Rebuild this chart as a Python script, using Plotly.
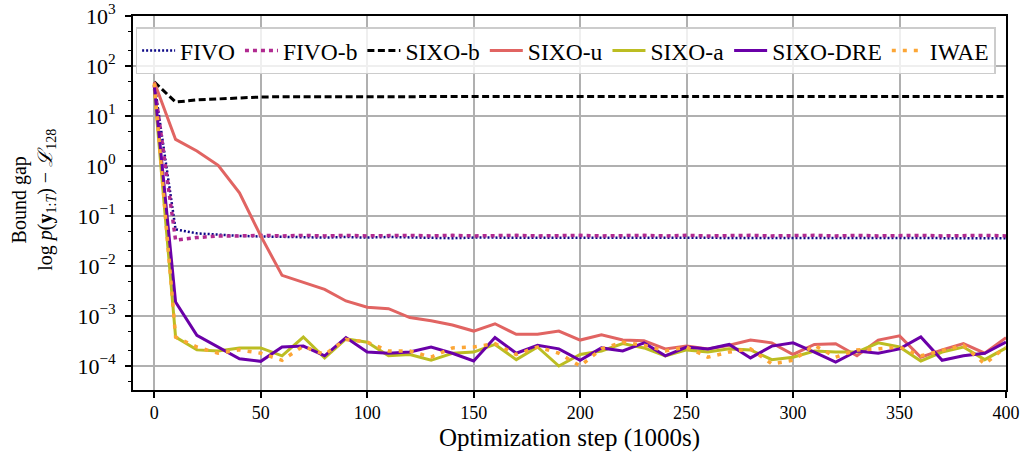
import plotly.graph_objects as go

steps = list(range(0, 410, 10))

fivo = [45, 0.054, 0.045, 0.042, 0.040, 0.039, 0.038, 0.038, 0.037, 0.038, 0.037,
        0.038, 0.037, 0.037, 0.036, 0.037, 0.037, 0.036, 0.037, 0.037, 0.036,
        0.036, 0.037, 0.036, 0.037, 0.036, 0.037, 0.037, 0.036, 0.037, 0.037,
        0.036, 0.036, 0.037, 0.036, 0.037, 0.036, 0.037, 0.036, 0.037, 0.036]
fivo_b = [42, 0.033, 0.037, 0.040, 0.040, 0.041, 0.040, 0.041, 0.040, 0.041, 0.040,
          0.041, 0.041, 0.040, 0.041, 0.040, 0.041, 0.041, 0.040, 0.041, 0.041,
          0.040, 0.041, 0.041, 0.040, 0.041, 0.040, 0.041, 0.041, 0.040, 0.041,
          0.041, 0.040, 0.041, 0.040, 0.041, 0.041, 0.040, 0.041, 0.041, 0.040]
sixo_b = [48, 19, 21, 22, 23, 24, 24.3, 24.4, 24.5, 24.5, 24.5,
          24.5, 24.5, 24.5, 24.5, 24.5, 24.5, 24.5, 24.5, 24.5, 24.5,
          24.5, 24.5, 24.5, 24.5, 24.5, 24.5, 24.5, 24.5, 24.5, 24.5,
          24.5, 24.5, 24.5, 24.5, 24.5, 24.5, 24.5, 24.5, 24.5, 24.5]
sixo_u = [48, 3.4, 2.0, 1.03, 0.29, 0.040, 0.0065, 0.0047, 0.0034, 0.0020, 0.0015,
          0.0014, 0.00093, 0.00080, 0.00066, 0.00050, 0.00070, 0.00043, 0.00043, 0.00050, 0.00033,
          0.00042, 0.00033, 0.00032, 0.00022, 0.00025, 0.00022, 0.00026, 0.00033, 0.00029, 0.00017,
          0.00027, 0.00028, 0.00016, 0.00033, 0.00040, 0.00015, 0.00021, 0.00028, 0.00018, 0.00037]
sixo_a = [35, 0.00038, 0.00021, 0.00020, 0.00023, 0.00023, 0.00016, 0.00038, 0.000145, 0.00035, 0.00030,
          0.00016, 0.00017, 0.00013, 0.00018, 0.00019, 0.00027, 0.000134, 0.00024, 0.00010, 0.00017,
          0.00020, 0.00028, 0.00023, 0.00016, 0.00021, 0.00019, 0.00022, 0.00021, 0.000134, 0.00015,
          0.00020, 0.00019, 0.00019, 0.00029, 0.00024, 0.000126, 0.00019, 0.00024, 0.000134, 0.00023]
sixo_dre = [40, 0.0019, 0.00041, 0.00024, 0.00014, 0.000124, 0.00024, 0.00025, 0.00016, 0.00037, 0.00019,
            0.00018, 0.00019, 0.00024, 0.00018, 0.000126, 0.00037, 0.00018, 0.00026, 0.00022, 0.00013,
            0.00023, 0.00020, 0.00029, 0.00016, 0.00024, 0.00022, 0.00027, 0.000145, 0.00025, 0.00029,
            0.00019, 0.00012, 0.00020, 0.00018, 0.00022, 0.00038, 0.00013, 0.00016, 0.00018, 0.00030]
iwae = [45, 0.00038, 0.00024, 0.00018, 0.00021, 0.00018, 0.00013, 0.00025, 0.00017, 0.00034, 0.00030,
        0.00020, 0.00020, 0.00015, 0.00023, 0.00024, 0.00028, 0.00017, 0.00024, 0.00018, 0.00010,
        0.00022, 0.00030, 0.00026, 0.00020, 0.00024, 0.00015, 0.00019, 0.00022, 0.00011, 0.00013,
        0.00026, 0.00015, 0.00021, 0.00022, 0.00024, 0.00016, 0.00020, 0.00026, 0.00011, 0.00024]

series = [
    ("FIVO", fivo, "#0d0887", "2px,2px", 2.5),
    ("FIVO-b", fivo_b, "#b12a90", "4px,4px", 3.5),
    ("SIXO-b", sixo_b, "#000000", "7px,3.5px", 3),
    ("SIXO-u", sixo_u, "#e16462", "solid", 3),
    ("SIXO-a", sixo_a, "#bcbd22", "solid", 3),
    ("SIXO-DRE", sixo_dre, "#6a00a8", "solid", 3),
    ("IWAE", iwae, "#fca636", "4px,7px", 3.5),
]

x_ticks = [0, 50, 100, 150, 200, 250, 300, 350, 400]
y_tick_vals = [1e-4, 1e-3, 1e-2, 1e-1, 1, 10, 100, 1000]
y_tick_text = ["10<sup>−4</sup>", "10<sup>−3</sup>", "10<sup>−2</sup>", "10<sup>−1</sup>",
               "10<sup>0</sup>", "10<sup>1</sup>", "10<sup>2</sup>", "10<sup>3</sup>"]

fig = go.Figure()
for name, vals, color, dash, w in series:
    fig.add_trace(go.Scatter(x=steps, y=vals, mode="lines", name=name,
                             line=dict(color=color, dash=dash, width=w)))

font_family = "Liberation Serif, DejaVu Serif, serif"
fig.update_layout(
    width=1021, height=455,
    margin=dict(l=133, r=15, t=16, b=65),
    plot_bgcolor="white", paper_bgcolor="white",
    font=dict(family=font_family, size=18, color="black"),
    showlegend=True,
    legend=dict(orientation="h", x=0.003, y=0.97, xanchor="left", yanchor="top",
                bgcolor="rgba(255,255,255,0.8)", bordercolor="#cccccc", borderwidth=1.5,
                font=dict(size=23.5), itemwidth=33, tracegroupgap=0),
    xaxis=dict(range=[-10, 400], tickvals=x_ticks, ticks="outside", ticklen=6, tickwidth=1.5,
               tickcolor="black", showline=True, linecolor="black", linewidth=1.6, mirror=True,
               showgrid=True, gridcolor="#b0b0b0", gridwidth=1.6, zeroline=False,
               automargin=False, tickfont=dict(size=18)),
    yaxis=dict(type="log", range=[-4.48, 3.0005], tickvals=y_tick_vals, ticktext=y_tick_text,
               ticks="outside", ticklen=6, tickwidth=1.5, tickcolor="black",
               showline=True, linecolor="black", linewidth=1.6, mirror=True,
               showgrid=True, gridcolor="#b0b0b0", gridwidth=1.6, zeroline=False,
               automargin=False, tickfont=dict(size=22), ticklabelstandoff=5,
               minor=dict(ticks="outside", ticklen=3.5, tickwidth=1, tickcolor="black", showgrid=False)),
    annotations=[
        dict(text="Optimization step (1000s)", xref="paper", yref="paper",
             x=0.5, y=-0.128, xanchor="center", yanchor="middle", showarrow=False,
             font=dict(size=25)),
        dict(text="Bound gap<br>log <i>p</i>(<b>y</b><sub>1:<i>T</i></sub>) − <i>ℒ</i><sub>128</sub>",
             xref="paper", yref="paper", x=-0.114, y=0.51, xanchor="center", yanchor="middle",
             textangle=-90, showarrow=False, font=dict(size=20)),
    ],
)

fig.write_html("out.html", config={"displayModeBar": False},
               post_script="document.body.style.margin='0';document.body.style.overflow='hidden';")
